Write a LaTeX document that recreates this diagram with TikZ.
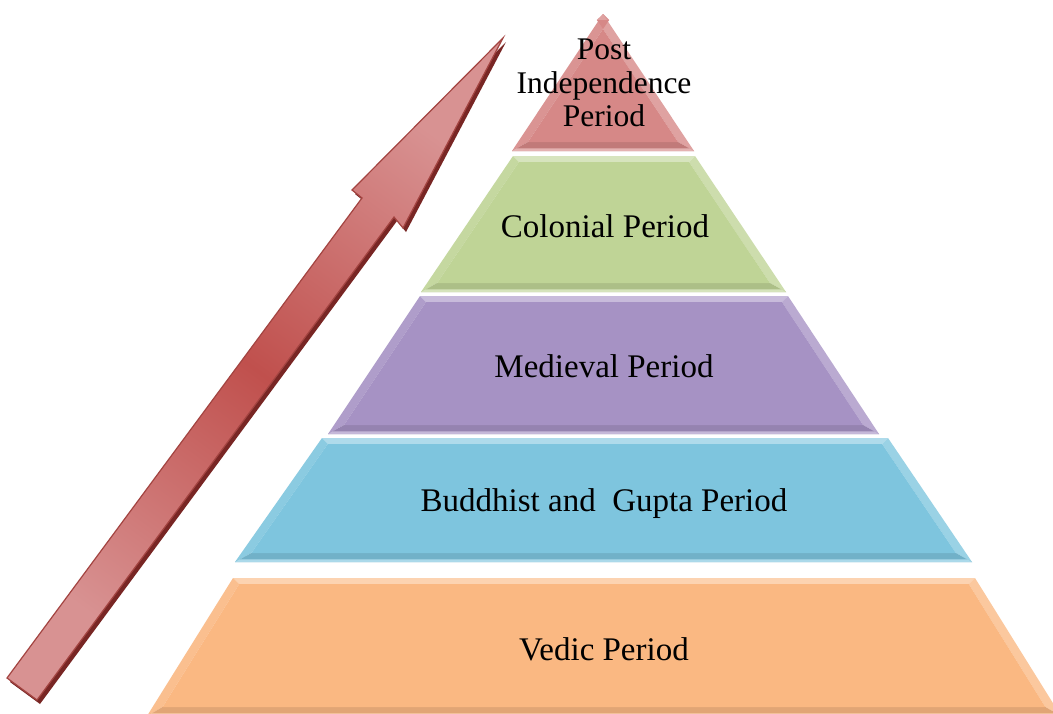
\documentclass[tikz,border=0pt]{standalone}
\usepackage{fontspec}
\setmainfont{Liberation Serif}
\usetikzlibrary{calc}

\definecolor{redtier}{RGB}{214,136,135}
\definecolor{greentier}{RGB}{191,212,150}
\definecolor{purpletier}{RGB}{166,146,196}
\definecolor{bluetier}{RGB}{126,197,222}
\definecolor{orangetier}{RGB}{250,184,130}
\definecolor{arrowred}{RGB}{192,80,77}
\definecolor{arrowpink}{RGB}{216,146,146}
\definecolor{arrowdark}{RGB}{120,38,36}

\def\bvtop{6}\def\bvbot{9}\def\bvside{10}
% one tier of the pyramid: TLx, TRx, ytop, BLx, BRx, ybot, colour
\newcommand\pyrtier[7]{%
  \pgfmathsetmacro\pyi{#3+\bvtop}%
  \pgfmathsetmacro\pyo{#6-\bvbot}%
  \pgfmathsetmacro\pxa{#4+(#1-#4)*(#6-\pyi)/(#6-#3)+\bvside}%
  \pgfmathsetmacro\pxb{#5+(#2-#5)*(#6-\pyi)/(#6-#3)-\bvside}%
  \pgfmathsetmacro\pxc{#4+(#1-#4)*(#6-\pyo)/(#6-#3)+\bvside}%
  \pgfmathsetmacro\pxd{#5+(#2-#5)*(#6-\pyo)/(#6-#3)-\bvside}%
  \fill[#7!62!white] (#1,#3) -- (#2,#3) -- (\pxb,\pyi) -- (\pxa,\pyi) -- cycle;
  \fill[#7!90!white] (#1,#3) -- (\pxa,\pyi) -- (\pxc,\pyo) -- (#4,#6) -- cycle;
  \fill[#7!78!white] (#2,#3) -- (#5,#6) -- (\pxd,\pyo) -- (\pxb,\pyi) -- cycle;
  \fill[#7!90!black] (#4,#6) -- (\pxc,\pyo) -- (\pxd,\pyo) -- (#5,#6) -- cycle;
  \fill[#7!65!white] (#4,#6) -- ($(#4,#6)!0.3!(\pxc,\pyo)$) -- ($(#5,#6)!0.3!(\pxd,\pyo)$) -- (#5,#6) -- cycle;
  \fill[#7] (\pxa,\pyi) -- (\pxb,\pyi) -- (\pxd,\pyo) -- (\pxc,\pyo) -- cycle;
}

\begin{document}
\begin{tikzpicture}[
  x=1pt, y=-1pt,
  lbl/.style={inner sep=0pt, anchor=base, font=\fontsize{33}{36}\selectfont},
  toplbl/.style={inner sep=0pt, align=center, font=\fontsize{31.5}{33.5}\selectfont}
]
\fill[white] (0,0) rectangle (1053,713);
\useasboundingbox (0,0) rectangle (1053,713);
\clip (0,0) rectangle (1053,713);

% pyramid, top to bottom
\pyrtier{603}{603}{14}{512}{694}{151}{redtier}
\pyrtier{513}{695}{156}{421}{786}{292}{greentier}
\pyrtier{420}{788}{296}{328}{879}{434}{purpletier}
\pyrtier{322}{888}{438}{235}{972}{562}{bluetier}
\pyrtier{233}{975}{578}{147}{1061}{716}{orangetier}

\node[toplbl] (post) at (604,83) {Post\\Independence\\Period};
\node[lbl] (colonial) at (605,237) {Colonial Period};
\node[lbl] (medieval) at (604,377) {Medieval Period};
\node[lbl] (buddhist) at (604,511) {Buddhist and \ Gupta Period};
\node[lbl] (vedic) at (604,660) {Vedic Period};

% rising arrow
\fill[arrowdark] (10,682) -- (365,202) -- (355,194) -- (506,42) -- (406,232) -- (397,221) -- (40,704) -- cycle;
\shade[top color=arrowpink, bottom color=arrowpink, middle color=arrowred, shading angle=-36.5,
       draw=arrowred!85!black, line width=1.2pt, line join=miter]
  (7,678) -- (362,198) -- (352,190) -- (503,38) -- (403,228) -- (394,217) -- (37,700) -- cycle;
\end{tikzpicture}
\end{document}
